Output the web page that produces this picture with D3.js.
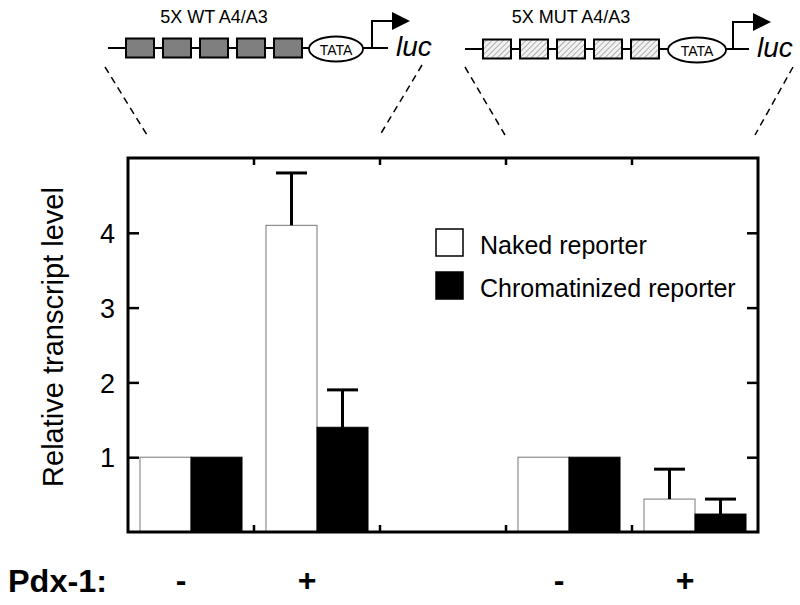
<!DOCTYPE html>
<html><head><meta charset="utf-8">
<script src="https://cdn.jsdelivr.net/npm/d3@7"></script>
<style>body{margin:0;background:#fff}svg{display:block}text{font-family:"Liberation Sans",Arial,sans-serif}</style>
</head><body>
<script>
// ---- data ----
const slots = ["WT-", "WT+", "gap", "MUT-", "MUT+"];
const pdxLabels = ["-", "+", "", "-", "+"];
const series = ["Naked reporter", "Chromatinized reporter"];
const nakedValues = [1, 4.1, null, 1, 0.44];
const nakedErrors = [0, 0.7, null, 0, 0.40];
const chromValues = [1, 1.4, null, 1, 0.24];
const chromErrors = [0, 0.5, null, 0, 0.20];
const yTicks = [1, 2, 3, 4];
const constructs = [
  {title: "5X WT A4/A3", type: "wt"},
  {title: "5X MUT A4/A3", type: "mut"}
];

const W = 800, H = 605;
const svg = d3.select("body").append("svg").attr("width", W).attr("height", H);

const defs = svg.append("defs");
const pat = defs.append("pattern").attr("id", "hatch").attr("patternUnits", "userSpaceOnUse")
  .attr("width", 4).attr("height", 4).attr("patternTransform", "rotate(45)");
pat.append("rect").attr("width", 4).attr("height", 4).attr("fill", "#f2f2f2");
pat.append("line").attr("x1", 0).attr("y1", 0).attr("x2", 0).attr("y2", 4).attr("stroke", "#8a8a8a").attr("stroke-width", 1.3);

const L = 128, R = 758, T = 158, B = 532;
const x = d3.scaleBand().domain(slots).range([L, R]).paddingInner(0).paddingOuter(0);
const xs = d3.scaleBand().domain(series).range([0, x.bandwidth()]).paddingInner(0).paddingOuter(0.235);
const y = d3.scaleLinear().domain([0, 5]).range([B, T]);

const g = svg.append("g");

// bars
const bars = [];
slots.forEach((s, i) => {
  if (nakedValues[i] == null) return;
  bars.push({slot: s, s: series[0], v: nakedValues[i], e: nakedErrors[i]});
  bars.push({slot: s, s: series[1], v: chromValues[i], e: chromErrors[i]});
});
g.selectAll("rect.bar").data(bars).join("rect").attr("class", "bar")
  .attr("x", d => x(d.slot) + xs(d.s))
  .attr("y", d => y(d.v))
  .attr("width", xs.bandwidth())
  .attr("height", d => y(0) - y(d.v))
  .attr("fill", d => d.s === series[0] ? "#fff" : "#000")
  .attr("stroke", d => d.s === series[0] ? "#777" : "#000")
  .attr("stroke-width", 1);

// error bars
const eb = bars.filter(d => d.e > 0);
const capW = 31;
eb.forEach(d => {
  const cx = x(d.slot) + xs(d.s) + xs.bandwidth() / 2;
  g.append("line").attr("x1", cx).attr("x2", cx).attr("y1", y(d.v)).attr("y2", y(d.v + d.e))
    .attr("stroke", "#000").attr("stroke-width", 3);
  g.append("line").attr("x1", cx - capW / 2).attr("x2", cx + capW / 2).attr("y1", y(d.v + d.e)).attr("y2", y(d.v + d.e))
    .attr("stroke", "#000").attr("stroke-width", 3);
});

// axes
const axL = d3.axisLeft(y).tickValues(yTicks).tickSizeInner(-11).tickSizeOuter(0).tickPadding(13).tickFormat(d3.format("d"));
const gl = svg.append("g").attr("transform", `translate(${L},0)`).call(axL);
gl.select(".domain").remove();
gl.selectAll(".tick line").attr("stroke-width", 2.5);
gl.selectAll(".tick text").attr("font-size", 27).attr("font-family", "Liberation Sans, Arial, sans-serif").attr("fill", "#000").attr("dy", "0.36em");

const axR = d3.axisRight(y).tickValues(yTicks).tickSizeInner(-11).tickSizeOuter(0).tickFormat("");
const gr = svg.append("g").attr("transform", `translate(${R},0)`).call(axR);
gr.select(".domain").remove();
gr.selectAll(".tick line").attr("stroke-width", 2.5);

const bx = slots.slice(1).map(s => x(s));
svg.selectAll("line.tt").data(bx).join("line").attr("class", "tt")
  .attr("x1", d => d).attr("x2", d => d).attr("y1", T).attr("y2", T + 7).attr("stroke", "#000").attr("stroke-width", 2.5);
svg.selectAll("line.tb").data(bx).join("line").attr("class", "tb")
  .attr("x1", d => d).attr("x2", d => d).attr("y1", B).attr("y2", B - 7).attr("stroke", "#000").attr("stroke-width", 2.5);

// frame
svg.append("rect").attr("x", L).attr("y", T).attr("width", R - L).attr("height", B - T)
  .attr("fill", "none").attr("stroke", "#000").attr("stroke-width", 3);

// y label
svg.append("text").attr("transform", `translate(63,${(T + B) / 2 - 8}) rotate(-90)`)
  .attr("text-anchor", "middle").attr("font-size", 29).text("Relative transcript level");

// legend
const leg = svg.append("g");
series.forEach((s, i) => {
  const yy = 229 + i * 43;
  leg.append("rect").attr("x", 436).attr("y", yy).attr("width", 27).attr("height", 27)
    .attr("fill", i === 0 ? "#fff" : "#000").attr("stroke", "#000").attr("stroke-width", 1.5);
  leg.append("text").attr("x", 480).attr("y", yy + 25).attr("font-size", 25).text(s);
});

// Pdx-1 labels
svg.append("text").attr("x", 8).attr("y", 592).attr("font-size", 31).attr("font-weight", "bold")
  .attr("textLength", 99).attr("lengthAdjust", "spacingAndGlyphs").text("Pdx-1:");
svg.selectAll("text.pdx").data(slots.map((s, i) => ({s, l: pdxLabels[i]})).filter(d => d.l))
  .join("text").attr("class", "pdx")
  .attr("x", d => x(d.s) + x.bandwidth() / 2 - 10).attr("y", 591)
  .attr("text-anchor", "middle").attr("font-size", 32).attr("font-weight", "bold").text(d => d.l);

// construct diagrams
const diag = [
  {c: constructs[0], x0: 108, boxX: 126, cy: 48, ellCx: 336, ellRx: 27, arrowX: 372, dash: [[105, 67, 147, 135], [422, 65, 380, 135]]},
  {c: constructs[1], x0: 465, boxX: 483, cy: 49, ellCx: 697, ellRx: 29, arrowX: 733, dash: [[465, 67, 505, 135], [793, 67, 755, 135]]}
];
diag.forEach(d => {
  const dg = svg.append("g");
  dg.append("line").attr("x1", d.x0).attr("x2", d.arrowX + 16).attr("y1", d.cy).attr("y2", d.cy)
    .attr("stroke", "#000").attr("stroke-width", 2);
  for (let k = 0; k < 5; k++) {
    dg.append("rect").attr("x", d.boxX + k * 37).attr("y", d.cy - 9.5).attr("width", 28).attr("height", 19)
      .attr("fill", d.c.type === "wt" ? "#7f7f7f" : "url(#hatch)").attr("stroke", "#000").attr("stroke-width", 2);
  }
  dg.append("ellipse").attr("cx", d.ellCx).attr("cy", d.cy + 1).attr("rx", d.ellRx).attr("ry", 12.5)
    .attr("fill", "#fff").attr("stroke", "#000").attr("stroke-width", 1.8);
  dg.append("text").attr("x", d.ellCx).attr("y", d.cy + 6.5).attr("text-anchor", "middle")
    .attr("font-size", 14).attr("font-family", "DejaVu Sans, sans-serif").text("TATA");
  dg.append("path").attr("d", `M${d.arrowX},${d.cy} V${d.cy - 27} H${d.arrowX + 21}`)
    .attr("fill", "none").attr("stroke", "#000").attr("stroke-width", 2);
  dg.append("path").attr("d", `M${d.arrowX + 20},${d.cy - 36} L${d.arrowX + 38},${d.cy - 27} L${d.arrowX + 20},${d.cy - 18} Z`)
    .attr("fill", "#000");
  dg.append("text").attr("x", d.arrowX + 24).attr("y", d.cy + 8).attr("font-size", 28).attr("font-style", "italic").text("luc");
  dg.append("text").attr("x", (d.boxX + d.boxX + 4 * 37 + 28) / 2).attr("y", 23).attr("text-anchor", "middle")
    .attr("font-size", 18).text(d.c.title);
  d.dash.forEach(p => {
    dg.append("line").attr("x1", p[0]).attr("y1", p[1]).attr("x2", p[2]).attr("y2", p[3])
      .attr("stroke", "#000").attr("stroke-width", 1.5).attr("stroke-dasharray", "7,5");
  });
});
</script>
</body></html>
